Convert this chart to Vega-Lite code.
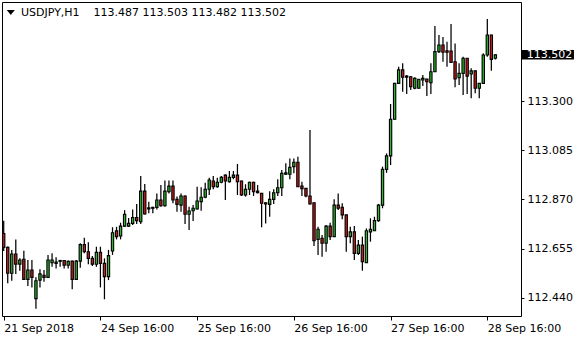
{
 "$schema": "https://vega.github.io/schema/vega-lite/v6.json",
 "width": 519,
 "height": 314,
 "autosize": {"type": "none"},
 "padding": {"left": 2, "top": 2, "right": 59, "bottom": 24},
 "background": "white",
 "config": {
  "view": {"stroke": "black", "strokeWidth": 1},
  "axis": {"grid": false, "domain": false, "labelFont": "DejaVu Sans", "labelFontSize": 11, "labelColor": "black", "tickColor": "black", "tickWidth": 1}
 },
 "datasets": {
  "bars": [
   {"i":0,"o":112.721,"h":112.777,"l":112.644,"c":112.660},
   {"i":1,"o":112.660,"h":112.664,"l":112.503,"c":112.547},
   {"i":2,"o":112.547,"h":112.649,"l":112.514,"c":112.631},
   {"i":3,"o":112.631,"h":112.695,"l":112.544,"c":112.587},
   {"i":4,"o":112.587,"h":112.612,"l":112.558,"c":112.605},
   {"i":5,"o":112.608,"h":112.645,"l":112.518,"c":112.520},
   {"i":6,"o":112.520,"h":112.605,"l":112.491,"c":112.561},
   {"i":7,"o":112.561,"h":112.605,"l":112.485,"c":112.529},
   {"i":8,"o":112.436,"h":112.529,"l":112.392,"c":112.514},
   {"i":9,"o":112.517,"h":112.564,"l":112.485,"c":112.544},
   {"i":10,"o":112.538,"h":112.561,"l":112.510,"c":112.529},
   {"i":11,"o":112.529,"h":112.627,"l":112.527,"c":112.605},
   {"i":12,"o":112.593,"h":112.634,"l":112.575,"c":112.605},
   {"i":13,"o":112.590,"h":112.617,"l":112.568,"c":112.596},
   {"i":14,"o":112.599,"h":112.605,"l":112.575,"c":112.603},
   {"i":15,"o":112.603,"h":112.605,"l":112.568,"c":112.582},
   {"i":16,"o":112.582,"h":112.603,"l":112.568,"c":112.599},
   {"i":17,"o":112.600,"h":112.602,"l":112.477,"c":112.520},
   {"i":18,"o":112.520,"h":112.605,"l":112.517,"c":112.600},
   {"i":19,"o":112.600,"h":112.678,"l":112.571,"c":112.672},
   {"i":20,"o":112.672,"h":112.702,"l":112.634,"c":112.641},
   {"i":21,"o":112.641,"h":112.682,"l":112.586,"c":112.612},
   {"i":22,"o":112.612,"h":112.622,"l":112.579,"c":112.587},
   {"i":23,"o":112.586,"h":112.663,"l":112.575,"c":112.638},
   {"i":24,"o":112.638,"h":112.663,"l":112.485,"c":112.590},
   {"i":25,"o":112.590,"h":112.612,"l":112.433,"c":112.532},
   {"i":26,"o":112.532,"h":112.649,"l":112.517,"c":112.624},
   {"i":27,"o":112.644,"h":112.748,"l":112.627,"c":112.724},
   {"i":28,"o":112.732,"h":112.750,"l":112.695,"c":112.707},
   {"i":29,"o":112.710,"h":112.768,"l":112.695,"c":112.753},
   {"i":30,"o":112.753,"h":112.823,"l":112.750,"c":112.805},
   {"i":31,"o":112.753,"h":112.788,"l":112.749,"c":112.765},
   {"i":32,"o":112.765,"h":112.826,"l":112.758,"c":112.791},
   {"i":33,"o":112.791,"h":112.850,"l":112.762,"c":112.777},
   {"i":34,"o":112.772,"h":112.972,"l":112.762,"c":112.906},
   {"i":35,"o":112.906,"h":112.937,"l":112.804,"c":112.806},
   {"i":36,"o":112.828,"h":112.860,"l":112.809,"c":112.833},
   {"i":37,"o":112.831,"h":112.838,"l":112.809,"c":112.835},
   {"i":38,"o":112.835,"h":112.896,"l":112.826,"c":112.867},
   {"i":39,"o":112.867,"h":112.933,"l":112.838,"c":112.842},
   {"i":40,"o":112.842,"h":112.952,"l":112.838,"c":112.906},
   {"i":41,"o":112.903,"h":112.952,"l":112.896,"c":112.928},
   {"i":42,"o":112.928,"h":112.952,"l":112.853,"c":112.867},
   {"i":43,"o":112.870,"h":112.882,"l":112.816,"c":112.848},
   {"i":44,"o":112.845,"h":112.896,"l":112.816,"c":112.885},
   {"i":45,"o":112.885,"h":112.887,"l":112.762,"c":112.805},
   {"i":46,"o":112.805,"h":112.838,"l":112.736,"c":112.819},
   {"i":47,"o":112.820,"h":112.845,"l":112.775,"c":112.831},
   {"i":48,"o":112.828,"h":112.925,"l":112.826,"c":112.863},
   {"i":49,"o":112.860,"h":112.923,"l":112.820,"c":112.879},
   {"i":50,"o":112.879,"h":112.943,"l":112.875,"c":112.914},
   {"i":51,"o":112.914,"h":112.965,"l":112.889,"c":112.955},
   {"i":52,"o":112.950,"h":112.972,"l":112.914,"c":112.925},
   {"i":53,"o":112.925,"h":112.965,"l":112.921,"c":112.945},
   {"i":54,"o":112.945,"h":112.972,"l":112.940,"c":112.966},
   {"i":55,"o":112.976,"h":112.979,"l":112.867,"c":112.950},
   {"i":56,"o":112.947,"h":112.994,"l":112.943,"c":112.966},
   {"i":57,"o":112.966,"h":112.994,"l":112.958,"c":112.976},
   {"i":58,"o":112.976,"h":113.025,"l":112.889,"c":112.947},
   {"i":59,"o":112.950,"h":112.952,"l":112.885,"c":112.889},
   {"i":60,"o":112.889,"h":112.936,"l":112.882,"c":112.914},
   {"i":61,"o":112.914,"h":112.947,"l":112.889,"c":112.945},
   {"i":62,"o":112.945,"h":112.947,"l":112.885,"c":112.903},
   {"i":63,"o":112.906,"h":112.933,"l":112.896,"c":112.899},
   {"i":64,"o":112.896,"h":112.898,"l":112.748,"c":112.853},
   {"i":65,"o":112.855,"h":112.856,"l":112.765,"c":112.850},
   {"i":66,"o":112.848,"h":112.906,"l":112.794,"c":112.870},
   {"i":67,"o":112.870,"h":112.914,"l":112.850,"c":112.899},
   {"i":68,"o":112.899,"h":112.958,"l":112.885,"c":112.921},
   {"i":69,"o":112.921,"h":112.998,"l":112.885,"c":112.984},
   {"i":70,"o":112.980,"h":113.028,"l":112.976,"c":112.986},
   {"i":71,"o":112.980,"h":113.049,"l":112.958,"c":113.010},
   {"i":72,"o":113.013,"h":113.049,"l":112.984,"c":113.032},
   {"i":73,"o":113.032,"h":113.056,"l":112.924,"c":112.925},
   {"i":74,"o":112.928,"h":112.947,"l":112.885,"c":112.917},
   {"i":75,"o":112.918,"h":112.920,"l":112.879,"c":112.885},
   {"i":76,"o":112.885,"h":113.173,"l":112.847,"c":112.850},
   {"i":77,"o":112.855,"h":112.856,"l":112.666,"c":112.689},
   {"i":78,"o":112.695,"h":112.750,"l":112.627,"c":112.739},
   {"i":79,"o":112.700,"h":112.714,"l":112.619,"c":112.678},
   {"i":80,"o":112.678,"h":112.758,"l":112.641,"c":112.753},
   {"i":81,"o":112.753,"h":112.768,"l":112.692,"c":112.707},
   {"i":82,"o":112.707,"h":112.870,"l":112.705,"c":112.845},
   {"i":83,"o":112.845,"h":112.896,"l":112.823,"c":112.831},
   {"i":84,"o":112.835,"h":112.853,"l":112.783,"c":112.802},
   {"i":85,"o":112.802,"h":112.803,"l":112.641,"c":112.707},
   {"i":86,"o":112.707,"h":112.750,"l":112.678,"c":112.728},
   {"i":87,"o":112.728,"h":112.753,"l":112.605,"c":112.634},
   {"i":88,"o":112.634,"h":112.692,"l":112.627,"c":112.670},
   {"i":89,"o":112.670,"h":112.707,"l":112.558,"c":112.597},
   {"i":90,"o":112.593,"h":112.743,"l":112.592,"c":112.733},
   {"i":91,"o":112.728,"h":112.787,"l":112.685,"c":112.739},
   {"i":92,"o":112.733,"h":112.794,"l":112.732,"c":112.777},
   {"i":93,"o":112.777,"h":112.850,"l":112.772,"c":112.845},
   {"i":94,"o":112.845,"h":113.013,"l":112.831,"c":113.001},
   {"i":95,"o":113.001,"h":113.071,"l":112.986,"c":113.060},
   {"i":96,"o":113.060,"h":113.287,"l":113.020,"c":113.220},
   {"i":97,"o":113.220,"h":113.379,"l":113.219,"c":113.377},
   {"i":98,"o":113.377,"h":113.450,"l":113.377,"c":113.436},
   {"i":99,"o":113.436,"h":113.465,"l":113.341,"c":113.404},
   {"i":100,"o":113.409,"h":113.414,"l":113.331,"c":113.404},
   {"i":101,"o":113.406,"h":113.409,"l":113.348,"c":113.363},
   {"i":102,"o":113.356,"h":113.404,"l":113.351,"c":113.399},
   {"i":103,"o":113.356,"h":113.396,"l":113.355,"c":113.395},
   {"i":104,"o":113.392,"h":113.414,"l":113.366,"c":113.399},
   {"i":105,"o":113.396,"h":113.397,"l":113.322,"c":113.384},
   {"i":106,"o":113.380,"h":113.465,"l":113.331,"c":113.428},
   {"i":107,"o":113.428,"h":113.628,"l":113.427,"c":113.516},
   {"i":108,"o":113.516,"h":113.589,"l":113.510,"c":113.545},
   {"i":109,"o":113.545,"h":113.580,"l":113.472,"c":113.513},
   {"i":110,"o":113.520,"h":113.559,"l":113.450,"c":113.513},
   {"i":111,"o":113.519,"h":113.637,"l":113.468,"c":113.469},
   {"i":112,"o":113.472,"h":113.552,"l":113.360,"c":113.396},
   {"i":113,"o":113.402,"h":113.465,"l":113.370,"c":113.421},
   {"i":114,"o":113.421,"h":113.494,"l":113.326,"c":113.487},
   {"i":115,"o":113.487,"h":113.488,"l":113.331,"c":113.409},
   {"i":116,"o":113.418,"h":113.443,"l":113.312,"c":113.432},
   {"i":117,"o":113.432,"h":113.433,"l":113.334,"c":113.356},
   {"i":118,"o":113.356,"h":113.379,"l":113.312,"c":113.377},
   {"i":119,"o":113.377,"h":113.509,"l":113.377,"c":113.501},
   {"i":120,"o":113.501,"h":113.659,"l":113.494,"c":113.589},
   {"i":121,"o":113.589,"h":113.590,"l":113.432,"c":113.482},
   {"i":122,"o":113.487,"h":113.503,"l":113.482,"c":113.502}
  ],
  "last": [{"p": 113.502, "label": "113.502"}],
  "hdr": [{"p": 113.687, "t": "USDJPY,H1\u00a0\u00a0\u00a0\u00a0113.487 113.503 113.482 113.502"}]
 },
 "layer": [
  {
   "data": {"name": "bars"},
   "mark": {"type": "rule", "color": "black", "strokeWidth": 1.25},
   "encoding": {
    "x": {"field": "i", "type": "quantitative", "title": null,
     "scale": {"domain": [-0.422, 128.36], "nice": false, "zero": false, "padding": 0},
     "axis": {"orient": "bottom", "values": [0, 24, 48, 72, 96, 120],
      "labelExpr": "datum.value == 0 ? '21 Sep 2018' : datum.value == 24 ? '24 Sep 16:00' : datum.value == 48 ? '25 Sep 16:00' : datum.value == 72 ? '26 Sep 16:00' : datum.value == 96 ? '27 Sep 16:00' : '28 Sep 16:00'",
      "labelAlign": "left", "labelBaseline": "top", "tickSize": 4, "labelPadding": 2,
      "labelOverlap": false, "labelBound": false, "labelFlush": false}},
    "y": {"field": "l", "type": "quantitative", "title": null,
     "scale": {"domain": [112.36, 113.733], "nice": false, "zero": false, "padding": 0},
     "axis": {"orient": "right", "values": [112.44, 112.655, 112.87, 113.085, 113.3], "format": ".3f",
      "tickSize": 3, "labelPadding": 3, "labelOverlap": false, "labelBound": false, "labelFlush": false}},
    "y2": {"field": "h"}
   }
  },
  {
   "data": {"name": "bars"},
   "mark": {"type": "bar", "width": 2.3, "stroke": "black", "strokeWidth": 1.1},
   "encoding": {
    "x": {"field": "i", "type": "quantitative"},
    "y": {"field": "o", "type": "quantitative"},
    "y2": {"field": "c"},
    "fill": {"condition": {"test": "datum.c >= datum.o", "value": "#2db92d"}, "value": "#d01c1c"}
   }
  },
  {
   "data": {"name": "last"},
   "mark": {"type": "rect", "color": "black"},
   "encoding": {
    "x": {"datum": 128.6, "type": "quantitative"},
    "x2": {"datum": 141.5},
    "y": {"datum": 113.523, "type": "quantitative"},
    "y2": {"datum": 113.482}
   }
  },
  {
   "data": {"name": "last"},
   "mark": {"type": "text", "align": "left", "baseline": "middle", "font": "DejaVu Sans", "fontSize": 11, "color": "white"},
   "encoding": {
    "x": {"datum": 129.8, "type": "quantitative"},
    "y": {"field": "p", "type": "quantitative"},
    "text": {"field": "label"}
   }
  },
  {
   "data": {"name": "hdr"},
   "mark": {"type": "point", "shape": "M-1,-0.6L1,-0.6L0,0.6Z", "filled": true, "color": "black", "size": 64, "opacity": 1, "strokeWidth": 0},
   "encoding": {
    "x": {"datum": 1.76, "type": "quantitative"},
    "y": {"field": "p", "type": "quantitative"}
   }
  },
  {
   "data": {"name": "hdr"},
   "mark": {"type": "text", "align": "left", "baseline": "middle", "font": "DejaVu Sans", "fontSize": 11, "color": "black"},
   "encoding": {
    "x": {"datum": 4.29, "type": "quantitative"},
    "y": {"field": "p", "type": "quantitative"},
    "text": {"field": "t"}
   }
  }
 ]
}
